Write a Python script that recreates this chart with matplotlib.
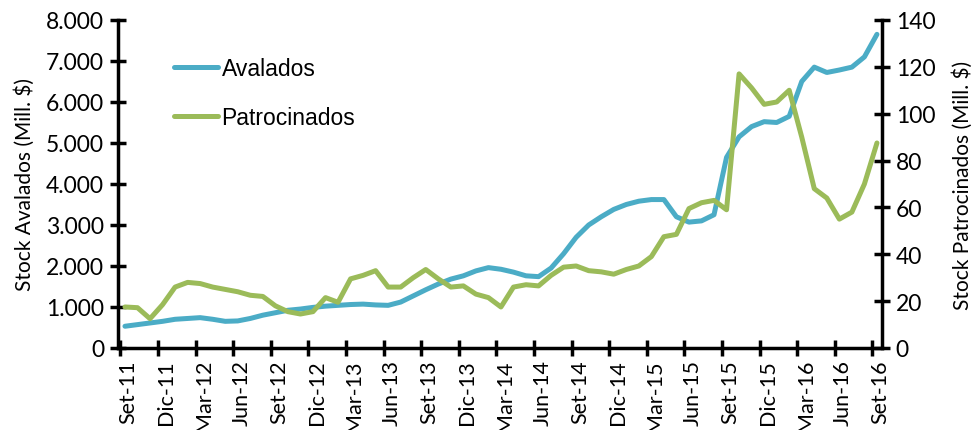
import matplotlib
matplotlib.use('Agg')
import matplotlib.pyplot as plt
from matplotlib.ticker import FixedLocator, FuncFormatter

# Etiquetas trimestrales del eje X (datos mensuales Set-11 .. Set-16)
tick_labels = ['Set-11', 'Dic-11', 'Mar-12', 'Jun-12', 'Set-12', 'Dic-12', 'Mar-13',
               'Jun-13', 'Set-13', 'Dic-13', 'Mar-14', 'Jun-14', 'Set-14', 'Dic-14',
               'Mar-15', 'Jun-15', 'Set-15', 'Dic-15', 'Mar-16', 'Jun-16', 'Set-16']

# Stock avalados (Mill. $), eje izquierdo
avalados = [530, 570, 610, 650, 700, 720, 740, 700, 650, 660,
            720, 800, 860, 920, 950, 990, 1020, 1040, 1060, 1070,
            1050, 1040, 1120, 1270, 1420, 1560, 1680, 1760, 1880, 1960,
            1920, 1850, 1760, 1740, 1950, 2300, 2700, 3000, 3200, 3380,
            3500, 3580, 3620, 3620, 3200, 3070, 3100, 3250, 4650, 5150,
            5400, 5520, 5500, 5650, 6500, 6850, 6720, 6780, 6850, 7100,
            7650]

# Stock patrocinados (Mill. $), eje derecho
patrocinados = [17.5, 17.2, 12.5, 18.5, 26, 28, 27.5, 26, 25, 24,
                22.5, 22, 18, 15.5, 14.5, 15.5, 21.5, 19.5, 29.5, 31,
                33, 26, 26, 30, 33.5, 29.5, 26, 26.5, 23, 21.5,
                17.5, 26, 27, 26.5, 31, 34.5, 35, 33, 32.5, 31.5,
                33.5, 35, 39, 47.5, 48.5, 59.5, 62, 63, 59, 117,
                111, 104, 105, 110, 90, 68, 64, 55, 58, 70,
                87.5]

meses = list(range(len(avalados)))

AZUL = '#4BACC6'
VERDE = '#9BBB59'
FUENTE = ['Lato', 'DejaVu Sans']

fig = plt.figure(figsize=(9.74, 4.31), dpi=100)
ax = fig.add_axes([0.1211, 0.1903, 0.9055 - 0.1211, 0.9513 - 0.1903])
ax2 = ax.twinx()

l1, = ax.plot(meses, avalados, color=AZUL, lw=3.6, solid_capstyle='round',
              solid_joinstyle='round', label='Avalados')
l2, = ax2.plot(meses, patrocinados, color=VERDE, lw=3.6, solid_capstyle='round',
               solid_joinstyle='round', label='Patrocinados')

ax.set_xlim(-0.56, 60.4)
ax.set_ylim(0, 8000)
ax2.set_ylim(0, 140)
ax.set_yticks(range(0, 8001, 1000))
ax2.set_yticks(range(0, 141, 20))
ax.yaxis.set_major_formatter(FuncFormatter(lambda v, p: f'{int(v):,}'.replace(',', '.')))

# marcas entre categorías, etiquetas en cada trimestre
ax.xaxis.set_major_locator(FixedLocator([2.63 + 3 * k for k in range(-1, 20)]))
ax.xaxis.set_major_formatter(FuncFormatter(lambda v, p: ''))
ax.xaxis.set_minor_locator(FixedLocator([3 * k + 0.3 for k in range(len(tick_labels))]))
ax.set_xticklabels(tick_labels, minor=True, rotation=90, fontsize=15.5, family=FUENTE)
ax.tick_params(axis='x', which='minor', length=0, pad=8)
ax.tick_params(axis='x', which='major', direction='inout', length=12, width=2.5)

ax.tick_params(axis='y', direction='inout', length=12, width=2.5, labelsize=16.5, pad=4)
ax2.tick_params(axis='y', direction='inout', length=12, width=2.5, labelsize=16.5, pad=4)
for t in ax.get_yticklabels() + ax2.get_yticklabels():
    t.set_family(FUENTE)

for a in (ax, ax2):
    a.spines['top'].set_visible(False)
    for s in ('left', 'right', 'bottom'):
        a.spines[s].set_linewidth(2.5)
ax.spines['right'].set_visible(False)
ax2.spines['left'].set_visible(False)
ax2.spines['bottom'].set_visible(False)

ax.set_ylabel('Stock Avalados (Mill. $)', fontsize=15, family=FUENTE, labelpad=8)
ax2.set_ylabel('Stock Patrocinados (Mill. $)', fontsize=15, family=FUENTE,
               rotation=90, labelpad=12)

ax.legend(handles=[l1, l2], loc='upper left', bbox_to_anchor=(0.047, 0.95),
          frameon=False, handlelength=1.9, handletextpad=0.15,
          labelspacing=1.15, prop={'family': 'Liberation Sans', 'size': 16.5})

fig.savefig('out.png', dpi=100)
plt.close(fig)
